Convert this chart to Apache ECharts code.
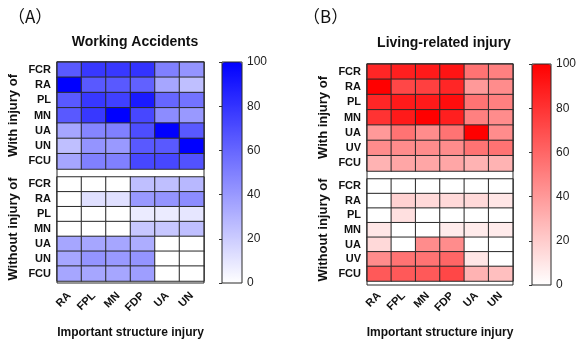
<!DOCTYPE html>
<html>
<head>
<meta charset="utf-8">
<script src="https://cdn.jsdelivr.net/npm/echarts@6/dist/echarts.min.js"></script>
<style>html,body{margin:0;padding:0;background:#fff;}#c{width:582px;height:340px;}</style>
</head>
<body>
<div id="c"></div>
<script>
// ---- data ----
const xCats = ['RA', 'FPL', 'MN', 'FDP', 'UA', 'UN'];
const rowsA = ['FCR', 'RA', 'PL', 'MN', 'UA', 'UN', 'FCU'];
const rowsB = ['FCR', 'RA', 'PL', 'MN', 'UA', 'UV', 'FCU'];
const barTicks = [0, 20, 40, 60, 80, 100];

// Working accidents, with injury of (rows) x important structure (cols)
const workWith = [
  [65, 78, 78, 80, 50, 42],
  [100, 65, 65, 62, 35, 25],
  [65, 78, 75, 90, 60, 55],
  [65, 78, 100, 72, 45, 40],
  [35, 48, 50, 70, 100, 65],
  [25, 42, 40, 65, 65, 100],
  [35, 50, 50, 72, 72, 68]
];
const workWithout = [
  [0, 0, 0, 25, 25, 28],
  [0, 12, 12, 40, 42, 45],
  [0, 0, 0, 8, 8, 10],
  [0, 0, 0, 22, 22, 25],
  [35, 35, 35, 32, 0, 0],
  [35, 42, 40, 42, 0, 0],
  [35, 35, 35, 38, 0, 0]
];
const lifeWith = [
  [85, 88, 90, 92, 55, 50],
  [100, 72, 75, 85, 40, 45],
  [85, 90, 90, 95, 55, 50],
  [80, 90, 100, 88, 50, 45],
  [40, 55, 45, 55, 100, 45],
  [45, 45, 45, 45, 55, 55],
  [30, 35, 35, 35, 30, 30]
];
const lifeWithout = [
  [0, 0, 0, 0, 0, 0],
  [0, 18, 15, 15, 15, 10],
  [0, 12, 0, 0, 0, 0],
  [10, 0, 0, 8, 8, 8],
  [15, 0, 45, 45, 0, 0],
  [45, 55, 55, 60, 10, 0],
  [65, 65, 65, 72, 30, 25]
];

// ---- helpers ----
function toCells(m) {
  const out = [];
  m.forEach((row, r) => row.forEach((v, c) => out.push([c, r, v])));
  return out;
}
const FONT = 'Liberation Sans, Arial, sans-serif';
const BORDER = '#2a2a2a';

function hmX(gi, showLabels) {
  return {
    type: 'category', gridIndex: gi, data: xCats,
    axisLine: { show: false }, axisTick: { show: false }, splitLine: { show: false },
    axisLabel: showLabels ? { show: true, rotate: 45, margin: 13, fontFamily: FONT, fontWeight: 'bold', fontSize: 11, color: '#111', interval: 0 } : { show: false },
    name: showLabels ? 'Important structure injury' : '',
    nameLocation: 'middle', nameGap: 46,
    nameTextStyle: { fontFamily: FONT, fontWeight: 'bold', fontSize: 12, color: '#111' }
  };
}
function hmY(gi, cats, name) {
  return {
    type: 'category', gridIndex: gi, data: cats, inverse: true,
    axisLine: { show: false }, axisTick: { show: false }, splitLine: { show: false },
    axisLabel: { margin: 6, fontFamily: FONT, fontWeight: 'bold', fontSize: 11, color: '#111', interval: 0 },
    name: name, nameLocation: 'middle', nameRotate: 90, nameGap: 37,
    nameTextStyle: { fontFamily: FONT, fontWeight: 'bold', fontSize: 13, color: '#111' }
  };
}
function hiddenX(gi) { return { type: 'value', gridIndex: gi, show: false }; }
function hiddenY(gi) { return { type: 'value', gridIndex: gi, show: false }; }
function barY(gi) {
  return {
    type: 'value', gridIndex: gi, min: barTicks[0], max: barTicks[barTicks.length - 1],
    interval: barTicks[1] - barTicks[0], position: 'right',
    axisLine: { show: false }, splitLine: { show: false },
    axisTick: { show: true, inside: true, length: 3, lineStyle: { color: '#333' } },
    axisLabel: { margin: 5, fontFamily: FONT, fontSize: 12, color: '#222' }
  };
}
function hmSeries(xi, m) {
  return {
    type: 'heatmap', xAxisIndex: xi, yAxisIndex: xi, data: toCells(m),
    itemStyle: { borderColor: BORDER, borderWidth: 1 },
    emphasis: { disabled: true }, silent: true
  };
}

const frameGrid = { show: true, borderColor: BORDER, borderWidth: 1, backgroundColor: 'transparent', z: 5 };

const option = {
  animation: false,
  backgroundColor: '#fff',
  title: [
    { text: '（A）', left: 3, top: 3, textStyle: { fontFamily: 'Noto Sans CJK SC', fontWeight: 'normal', fontSize: 17, color: '#111' } },
    { text: 'Working Accidents', left: 130, top: 30, textAlign: 'center', textStyle: { fontFamily: FONT, fontWeight: 'bold', fontSize: 14, color: '#111' } },
    { text: '（B）', left: 298, top: 3, textStyle: { fontFamily: 'Noto Sans CJK SC', fontWeight: 'normal', fontSize: 17, color: '#111' } },
    { text: 'Living-related injury', left: 439, top: 31, textAlign: 'center', textStyle: { fontFamily: FONT, fontWeight: 'bold', fontSize: 14, color: '#111' } }
  ],
  grid: [
    { left: 57, top: 62, width: 147, height: 107 },
    { left: 57, top: 177, width: 147, height: 106 },
    Object.assign({ left: 57, top: 62, width: 147, height: 221 }, frameGrid),
    Object.assign({ left: 222, top: 62, width: 20, height: 221 }, frameGrid, { z: 10 }),
    { left: 367, top: 64, width: 146, height: 107 },
    { left: 367, top: 179, width: 146, height: 106 },
    Object.assign({ left: 367, top: 64, width: 146, height: 221 }, frameGrid),
    Object.assign({ left: 532, top: 64, width: 19, height: 221 }, frameGrid, { z: 10 })
  ],
  xAxis: [
    hmX(0, false), hmX(1, true), hiddenX(2), hiddenX(3),
    hmX(4, false), hmX(5, true), hiddenX(6), hiddenX(7)
  ],
  yAxis: [
    hmY(0, rowsA, 'With injury of'), hmY(1, rowsA, 'Without injury of'), hiddenY(2), barY(3),
    hmY(4, rowsB, 'With injury of'), hmY(5, rowsB, 'Without injury of'), hiddenY(6), barY(7)
  ],
  visualMap: [
    { type: 'continuous', seriesIndex: [0, 1], min: 0, max: 100, calculable: false, show: true,
      left: 222, top: 62, itemWidth: 20, itemHeight: 221, padding: 0, text: null, showLabel: false,
      hoverLink: false, inRange: { color: ['#ffffff', '#0000ff'] } },
    { type: 'continuous', seriesIndex: [2, 3], min: 0, max: 100, calculable: false, show: true,
      left: 532, top: 64, itemWidth: 19, itemHeight: 221, padding: 0, text: null, showLabel: false,
      hoverLink: false, inRange: { color: ['#ffffff', '#ff0000'] } }
  ],
  series: [
    hmSeries(0, workWith), hmSeries(1, workWithout),
    hmSeries(4, lifeWith), hmSeries(5, lifeWithout)
  ]
};

const chart = echarts.init(document.getElementById('c'), null, { renderer: 'canvas' });
chart.setOption(option);
</script>
</body>
</html>
